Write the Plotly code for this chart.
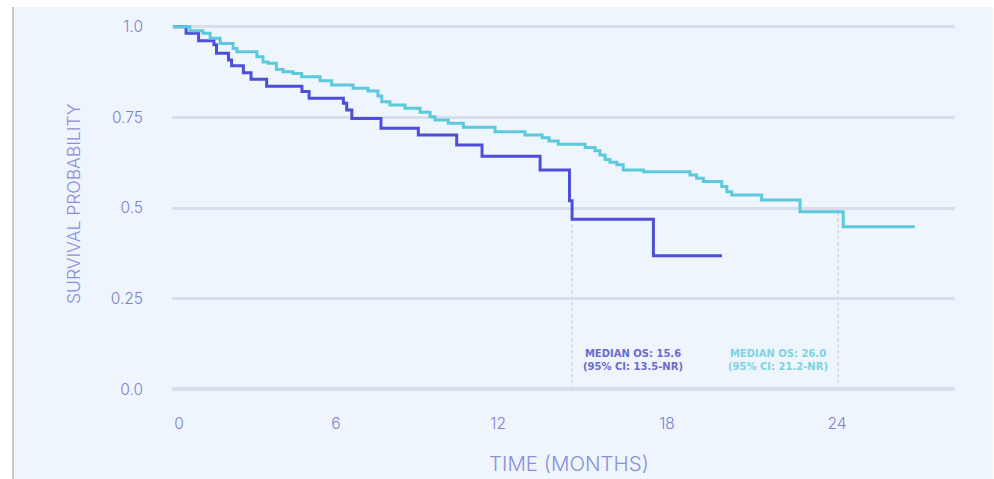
import plotly.graph_objects as go

# Kaplan-Meier step curves (time in months, survival probability)
purple_time = [0.0, 0.51, 1.00, 1.60, 1.70, 2.17, 2.29, 2.75, 3.05, 3.66, 5.04, 5.32,
               6.66, 6.79, 6.99, 8.13, 9.59, 11.09, 12.08, 14.35, 15.50, 15.60, 18.78, 21.46]
purple_surv = [1.000, 0.982, 0.961, 0.950, 0.927, 0.908, 0.892, 0.873, 0.855, 0.836, 0.821, 0.803,
               0.789, 0.770, 0.747, 0.720, 0.701, 0.674, 0.643, 0.605, 0.520, 0.469, 0.368, 0.368]

cyan_time = [0.0, 0.66, 1.17, 1.45, 1.84, 2.35, 2.50, 3.28, 3.52, 3.71, 4.04, 4.30, 4.69, 5.03,
             5.75, 6.20, 7.04, 7.62, 8.01, 8.16, 8.48, 9.07, 9.66, 10.05, 10.24, 10.76, 11.35,
             12.59, 13.76, 14.43, 14.70, 15.06, 16.11, 16.50, 16.69, 16.89, 17.08, 17.35, 17.60,
             18.39, 20.21, 20.47, 20.73, 21.45, 21.65, 21.84, 23.01, 24.51, 26.20, 29.00]
cyan_surv = [1.000, 0.989, 0.982, 0.968, 0.954, 0.940, 0.931, 0.917, 0.903, 0.899, 0.882, 0.876,
             0.871, 0.862, 0.851, 0.839, 0.830, 0.823, 0.809, 0.793, 0.784, 0.775, 0.764, 0.752,
             0.743, 0.734, 0.723, 0.710, 0.701, 0.694, 0.685, 0.676, 0.667, 0.658, 0.646, 0.634,
             0.626, 0.619, 0.605, 0.600, 0.591, 0.582, 0.573, 0.559, 0.545, 0.536, 0.522, 0.490,
             0.448, 0.448]

# Medians with confidence intervals
purple_median = 15.6
purple_ci = "13.5-NR"
cyan_median = 26.0
cyan_ci = "21.2-NR"

# Axis ticks
x_tick_vals = [0.23, 6.37, 12.71, 19.31, 25.96]
x_tick_text = ["0", "6", "12", "18", "24"]
y_tick_vals = [0.0, 0.25, 0.5, 0.75, 1.0]
y_tick_text = ["0.0", "0.25", "0.5", "0.75", "1.0"]

PURPLE = "#4E4ED8"
CYAN = "#5CC9DC"
BG = "#EEF5FC"
GRID = "#D8DEEC"
TICK = "#7C80D4"
TITLE = "#8A8FDC"
LABEL_FONT = "DejaVu Sans, Verdana"
AXIS_FONT = "Inter, Open Sans"

W, H = 994, 479
ML, MR, MT, MB = 172, 39, 20, 79
PW, PH = W - ML - MR, H - MT - MB


def px_x(px):
    return (px - ML) / PW


def px_y(py):
    return (H - MB - py) / PH


fig = go.Figure()
fig.add_trace(go.Scatter(x=purple_time, y=purple_surv, mode="lines",
                         line=dict(shape="hv", color=PURPLE, width=3), showlegend=False))
fig.add_trace(go.Scatter(x=cyan_time, y=cyan_surv, mode="lines",
                         line=dict(shape="hv", color=CYAN, width=3), showlegend=False))

shapes = []
# median drop lines
for m in (purple_median, cyan_median):
    shapes.append(dict(type="line", xref="x", yref="y", x0=m, x1=m, y0=0, y1=0.5,
                       line=dict(color="#B9C0D6", width=1, dash="dot"), layer="below"))
# page frame: white strips on top / left / right and a thin grey rule
shapes.append(dict(type="rect", xref="paper", yref="paper", x0=px_x(0), x1=px_x(W),
                   y0=px_y(7), y1=px_y(0), fillcolor="white", line=dict(width=0), layer="above"))
shapes.append(dict(type="rect", xref="paper", yref="paper", x0=px_x(0), x1=px_x(12),
                   y0=px_y(H), y1=px_y(0), fillcolor="white", line=dict(width=0), layer="above"))
shapes.append(dict(type="rect", xref="paper", yref="paper", x0=px_x(993), x1=px_x(W),
                   y0=px_y(H), y1=px_y(0), fillcolor="white", line=dict(width=0), layer="above"))
shapes.append(dict(type="line", xref="paper", yref="paper", x0=px_x(13), x1=px_x(13),
                   y0=px_y(H), y1=px_y(7), line=dict(color="#C8C8CC", width=2), layer="above"))

annotations = [
    dict(text="MEDIAN OS: %.1f<br>(95%% CI: %s)" % (purple_median, purple_ci),
         xref="paper", yref="paper", x=px_x(633), y=px_y(360), showarrow=False,
         font=dict(family=LABEL_FONT, size=10, color="#6B6BD2", weight="bold"),
         align="center", xanchor="center", yanchor="middle"),
    dict(text="MEDIAN OS: %.1f<br>(95%% CI: %s)" % (cyan_median, cyan_ci),
         xref="paper", yref="paper", x=px_x(778), y=px_y(360), showarrow=False,
         font=dict(family=LABEL_FONT, size=10, color="#7DD3E2", weight="bold"),
         align="center", xanchor="center", yanchor="middle"),
    dict(text="TIME (MONTHS)", xref="paper", yref="paper", x=px_x(569), y=px_y(463),
         showarrow=False, xanchor="center", yanchor="middle",
         font=dict(family=AXIS_FONT, size=20.5, color=TITLE, weight=300)),
    dict(text="SURVIVAL PROBABILITY", xref="paper", yref="paper", x=px_x(73), y=px_y(203),
         showarrow=False, xanchor="center", yanchor="middle", textangle=-90,
         font=dict(family=AXIS_FONT, size=17.5, color=TITLE, weight=300)),
]

fig.update_layout(
    width=W, height=H, autosize=False,
    margin=dict(l=ML, r=MR, t=MT, b=MB),
    paper_bgcolor=BG, plot_bgcolor=BG,
    shapes=shapes, annotations=annotations,
    xaxis=dict(range=[-0.04, 30.57], tickvals=x_tick_vals, ticktext=x_tick_text,
               showgrid=False, zeroline=False, showline=False, ticks="",
               ticklabelstandoff=12,
               tickfont=dict(family=AXIS_FONT, size=15.5, color=TICK, weight=300)),
    yaxis=dict(range=[-0.0295, 1.0185], tickvals=y_tick_vals, ticktext=y_tick_text,
               showgrid=True, gridcolor=GRID, gridwidth=2.5,
               zeroline=True, zerolinecolor=GRID, zerolinewidth=3.5,
               showline=False, ticks="", ticklabelstandoff=28,
               tickfont=dict(family=AXIS_FONT, size=15.5, color=TICK, weight=300)),
)

fig.write_html("out.html")
